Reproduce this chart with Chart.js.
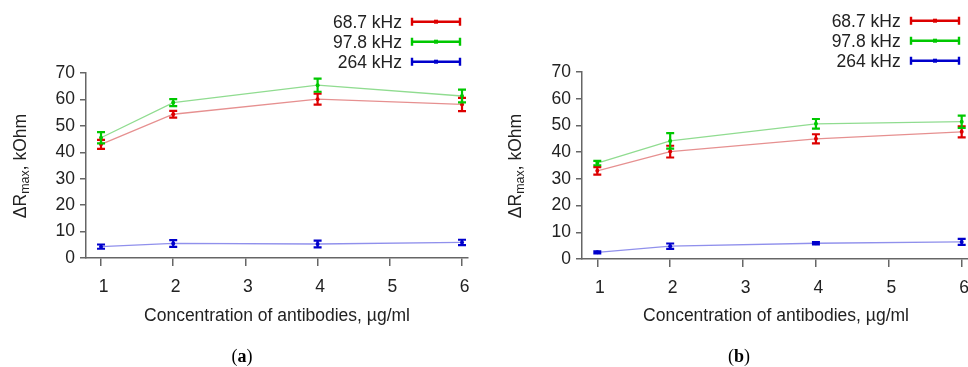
<!DOCTYPE html>
<html>
<head>
<meta charset="UTF-8">
<title>Delta R max vs antibody concentration</title>
<script src="https://cdn.jsdelivr.net/npm/chart.js"></script>
<style>
    body { margin: 0; background: #fff; }
    #wrap { position: relative; width: 968px; height: 367px; overflow: hidden; }
    .panel { position: absolute; top: 0; }
</style>
</head>
<body>
<div id="wrap">
    <div class="panel" style="left:0"><canvas id="chartA" width="484" height="367"></canvas></div>
    <div class="panel" style="left:484px"><canvas id="chartB" width="510" height="367"></canvas></div>
</div>
<script>
// concentrations (µg/ml) at which measurements were taken
const concentrations = [1, 2, 4, 6];
const xTicks = [1, 2, 3, 4, 5, 6];
const seriesLabels = ['68.7 kHz', '97.8 kHz', '264 kHz'];

// panel (a)
const a687 = [43.0, 54.4, 60.1, 58.1];
const a687Err = [1.7, 1.3, 2.1, 2.5];
const a978 = [45.5, 58.8, 65.4, 61.3];
const a978Err = [2.1, 1.3, 2.5, 2.4];
const a264 = [4.3, 5.5, 5.3, 5.9];
const a264Err = [0.8, 1.3, 1.3, 1.0];

// panel (b)
const b687 = [33.0, 40.2, 45.0, 47.6];
const b687Err = [1.4, 2.2, 1.7, 2.1];
const b978 = [35.9, 44.2, 50.6, 51.4];
const b978Err = [0.8, 2.9, 1.8, 2.3];
const b264 = [2.5, 4.8, 5.9, 6.4];
const b264Err = [0.4, 1.0, 0.4, 1.1];

const barColors = ['#dd0000', '#00c800', '#0000cc'];
const lineColors = ['#e69090', '#90dc90', '#9090ec'];
const FONT = "'Liberation Sans', Arial, sans-serif";
const FS = 17.5;
const TEXT = '#222';
const AXIS = '#666';

const errorBars = {
    id: 'errorBars',
    afterDatasetsDraw(chart) {
        const { ctx, scales: { x, y } } = chart;
        chart.data.datasets.forEach(ds => {
            ctx.save();
            ctx.strokeStyle = ds.barColor;
            ctx.lineWidth = 2.2;
            ds.data.forEach((p, i) => {
                const px = x.getPixelForValue(p.x);
                const top = y.getPixelForValue(p.y + ds.errors[i]);
                const bot = y.getPixelForValue(p.y - ds.errors[i]);
                ctx.beginPath();
                ctx.moveTo(px, top); ctx.lineTo(px, bot);
                ctx.moveTo(px - 4, top); ctx.lineTo(px + 4, top);
                ctx.moveTo(px - 4, bot); ctx.lineTo(px + 4, bot);
                ctx.stroke();
            });
            ctx.restore();
        });
    }
};

const errLegend = {
    id: 'errLegend',
    afterDraw(chart, args, opts) {
        const ctx = chart.ctx;
        ctx.save();
        ctx.font = FS + 'px ' + FONT;
        ctx.textAlign = 'right';
        ctx.textBaseline = 'middle';
        chart.data.datasets.forEach((ds, i) => {
            const y = opts.top + i * 20;
            ctx.fillStyle = TEXT;
            ctx.fillText(ds.label, opts.textRight, y + 1);
            ctx.strokeStyle = ds.barColor;
            ctx.lineWidth = 2.4;
            ctx.beginPath();
            ctx.moveTo(opts.lineLeft, y); ctx.lineTo(opts.lineRight, y);
            ctx.moveTo(opts.lineLeft, y - 4); ctx.lineTo(opts.lineLeft, y + 4);
            ctx.moveTo(opts.lineRight, y - 4); ctx.lineTo(opts.lineRight, y + 4);
            ctx.stroke();
            ctx.fillStyle = ds.barColor;
            ctx.fillRect((opts.lineLeft + opts.lineRight) / 2 - 2, y - 2, 4, 4);
        });
        ctx.restore();
    }
};

// y title with subscript, and the (a)/(b) caption
const extraText = {
    id: 'extraText',
    afterDraw(chart, args, opts) {
        const ctx = chart.ctx;
        ctx.save();
        ctx.fillStyle = TEXT;
        ctx.translate(opts.titleX, opts.titleY);
        ctx.rotate(-Math.PI / 2);
        ctx.textBaseline = 'middle';
        ctx.textAlign = 'left';
        const big = FS + 'px ' + FONT, small = '12.5px ' + FONT;
        ctx.font = big; const w1 = ctx.measureText('ΔR').width;
        ctx.font = small; const w2 = ctx.measureText('max').width;
        ctx.font = big; const w3 = ctx.measureText(', kOhm').width;
        let x0 = -(w1 + w2 + w3) / 2;
        ctx.font = big; ctx.fillText('ΔR', x0, 0);
        ctx.font = small; ctx.fillText('max', x0 + w1, 5);
        ctx.font = big; ctx.fillText(', kOhm', x0 + w1 + w2, 0);
        ctx.restore();

        ctx.save();
        ctx.fillStyle = '#000';
        ctx.textBaseline = 'middle';
        ctx.textAlign = 'left';
        const reg = "18px 'Liberation Serif', 'Times New Roman', serif";
        const bold = "bold 18px 'Liberation Serif', 'Times New Roman', serif";
        ctx.font = reg; const p1 = ctx.measureText('(').width;
        ctx.font = bold; const p2 = ctx.measureText(opts.letter).width;
        ctx.font = reg; const p3 = ctx.measureText(')').width;
        let cx = opts.capX - (p1 + p2 + p3) / 2;
        ctx.font = reg; ctx.fillText('(', cx, opts.capY);
        ctx.font = bold; ctx.fillText(opts.letter, cx + p1, opts.capY);
        ctx.font = reg; ctx.fillText(')', cx + p1 + p2, opts.capY);
        ctx.restore();
    }
};

function makeChart(id, series, errs, g) {
    const datasets = series.map((vals, i) => ({
        label: seriesLabels[i],
        data: concentrations.map((c, j) => ({ x: c, y: vals[j] })),
        errors: errs[i],
        barColor: barColors[i],
        borderColor: lineColors[i],
        borderWidth: 1.3,
        pointRadius: 2,
        pointBorderWidth: 0,
        pointBackgroundColor: barColors[i],
        tension: 0
    }));
    return new Chart(document.getElementById(id), {
        type: 'line',
        data: { datasets },
        plugins: [errorBars, errLegend, extraText],
        options: {
            responsive: false,
            animation: false,
            devicePixelRatio: 1,
            layout: { padding: { left: 0, top: g.top, right: g.padRight, bottom: 0 } },
            plugins: {
                legend: { display: false },
                tooltip: { enabled: false },
                errLegend: g.legend,
                extraText: g.text
            },
            scales: {
                x: {
                    type: 'linear',
                    min: g.xMin,
                    max: g.xMax,
                    afterBuildTicks: s => { s.ticks = xTicks.map(v => ({ value: v })); },
                    afterFit: s => { s.height = g.xHeight; },
                    grid: { display: true, drawOnChartArea: false, drawTicks: true, tickLength: 8, color: AXIS, lineWidth: 1.5 },
                    border: { display: true, color: AXIS, width: 1.5 },
                    ticks: { color: TEXT, font: { family: FONT, size: FS }, padding: 11, labelOffset: 2.5, maxRotation: 0 },
                    title: {
                        display: true,
                        text: 'Concentration of antibodies, µg/ml',
                        color: TEXT,
                        font: { family: FONT, size: FS },
                        padding: { top: 0, bottom: 40 }
                    }
                },
                y: {
                    min: 0,
                    max: 70,
                    afterFit: s => { s.width = g.yWidth; },
                    grid: { display: true, drawOnChartArea: false, drawTicks: true, tickLength: 6, color: AXIS, lineWidth: 1.5 },
                    border: { display: true, color: AXIS, width: 1.5 },
                    ticks: { stepSize: 10, color: TEXT, font: { family: FONT, size: FS }, padding: 5 }
                }
            }
        }
    });
}

makeChart('chartA', [a687, a978, a264], [a687Err, a978Err, a264Err], {
    top: 73, padRight: 16, xHeight: 109, yWidth: 86,
    xMin: 0.792, xMax: 6.083,
    legend: { top: 21.7, textRight: 402, lineLeft: 412, lineRight: 460 },
    text: { titleX: 21, titleY: 166, capX: 242, capY: 357, letter: 'a' }
});

makeChart('chartB', [b687, b978, b264], [b687Err, b978Err, b264Err], {
    top: 72, padRight: 24, xHeight: 108, yWidth: 98,
    xMin: 0.790, xMax: 6.114,
    legend: { top: 20.7, textRight: 416.7, lineLeft: 427, lineRight: 475 },
    text: { titleX: 32, titleY: 166, capX: 255, capY: 357, letter: 'b' }
});
</script>
</body>
</html>
